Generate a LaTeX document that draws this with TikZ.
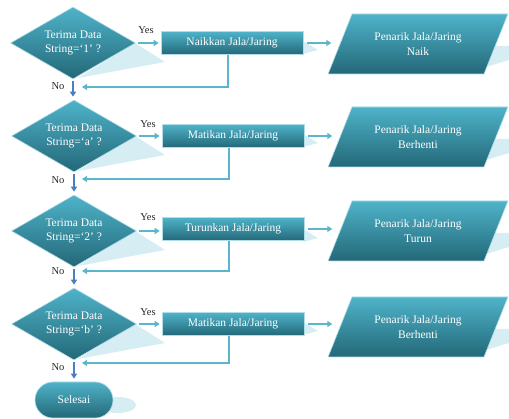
\documentclass[tikz,border=0pt]{standalone}
\usepackage{fontspec}
\setmainfont{Liberation Serif}
\usetikzlibrary{shapes.geometric,arrows.meta}
\definecolor{tealtop}{HTML}{4FB3C9}
\definecolor{tealbot}{HTML}{236878}
\definecolor{arrowc}{HTML}{5BB5CC}
\definecolor{noarrc}{HTML}{4A7EC0}
\definecolor{shadowc}{HTML}{D6EDF3}
\begin{document}
\begin{tikzpicture}[x=1pt,y=-1pt,
 shapebase/.style={top color=tealtop,bottom color=tealbot,draw=white!55!tealtop,line width=0.6pt,text=white,font=\fontsize{11.5}{14.5}\selectfont,align=center},
 dec/.style={shapebase,diamond,aspect=1.74,minimum width=125pt,minimum height=72pt,inner sep=0pt},
 proc/.style={shapebase,rectangle,minimum width=142pt,minimum height=23pt,inner sep=0pt},
 io/.style={shapebase,trapezium,trapezium left angle=55,trapezium right angle=125,trapezium stretches=true,minimum width=180pt,minimum height=60pt,inner sep=0pt},
 term/.style={shapebase,rectangle,rounded corners=18pt,minimum width=78pt,minimum height=36pt},
 arr/.style={-{Triangle[length=5pt,width=6pt]},draw=arrowc,line width=1.5pt},
 noarr/.style={-{Triangle[length=5pt,width=6pt]},draw=noarrc,line width=1.5pt},
 lbl/.style={font=\fontsize{10.5}{12}\selectfont,text=black!85},
 shade/.style={fill=shadowc,draw=none}
]
\useasboundingbox (0,0) rectangle (509,419);
% shadows
\foreach \y in {43,136,231,324}{
  \fill[shade] (135,\y) -- (165,\y+19) -- (78,\y+35) -- cycle;
  \fill[shade] (303,\y-2) -- (318,\y+7) -- (303,\y+11) -- cycle;
}
\foreach \y in {44,137,231,327}{
  \fill[shade] (495,\y+2) -- (509,\y+2) -- (509,\y+16) -- (463,\y+30) -- cycle;
}
\fill[shade] (118,405) ellipse (18pt and 8pt);
% decisions
\node[dec] (d1) at (73,43) {Terima Data\\String={`}1' ?};
\node[dec] (d2) at (74,136) {Terima Data\\String={`}a' ?};
\node[dec] (d3) at (74,231) {Terima Data\\String={`}2' ?};
\node[dec] (d4) at (74,324) {Terima Data\\String={`}b' ?};
% processes
\node[proc] (b1) at (232,43) {Naikkan Jala/Jaring};
\node[proc] (b2) at (233,136) {Matikan Jala/Jaring};
\node[proc] (b3) at (233,229) {Turunkan Jala/Jaring};
\node[proc] (b4) at (233,324) {Matikan Jala/Jaring};
% outputs
\node[io] (p1) at (418,44) {Penarik Jala/Jaring\\Naik};
\node[io] (p2) at (418,137) {Penarik Jala/Jaring\\Berhenti};
\node[io] (p3) at (418,231) {Penarik Jala/Jaring\\Turun};
\node[io] (p4) at (418,327) {Penarik Jala/Jaring\\Berhenti};
% terminal
\node[term] (end) at (74,400) {Selesai};
% labels
\node[lbl] (y1) at (146,30) {Yes};
\node[lbl] (y2) at (148,124) {Yes};
\node[lbl] (y3) at (148,217) {Yes};
\node[lbl] (y4) at (148,312) {Yes};
\node[lbl] (n1) at (58,86) {No};
\node[lbl] (n2) at (58,180) {No};
\node[lbl] (n3) at (58,271) {No};
\node[lbl] (n4) at (58,367) {No};
% return points
\coordinate (r1) at (82,87);
\coordinate (r2) at (82,179);
\coordinate (r3) at (82,271);
\coordinate (r4) at (82,363);
% yes arrows
\foreach \i in {1,2,3,4}{
  \draw[arr,shorten <=2pt,shorten >=2pt] (d\i.east) -- (d\i.east -| b\i.west);
  \draw[arr,shorten <=4pt] (b\i.east) -- ([xshift=28pt]b\i.east);
  \draw[arr] ([xshift=-4pt]b\i.south) |- (r\i);
}
% no arrows
\draw[noarr,shorten <=2pt,shorten >=3pt] (d1.south) -- (d1.south |- d2.north);
\draw[noarr,shorten <=2pt,shorten >=3pt] (d2.south) -- (d3.north);
\draw[noarr,shorten <=2pt,shorten >=3pt] (d3.south) -- (d4.north);
\draw[noarr,shorten <=2pt,shorten >=3pt] (d4.south) -- (end.north);
\end{tikzpicture}
\end{document}
